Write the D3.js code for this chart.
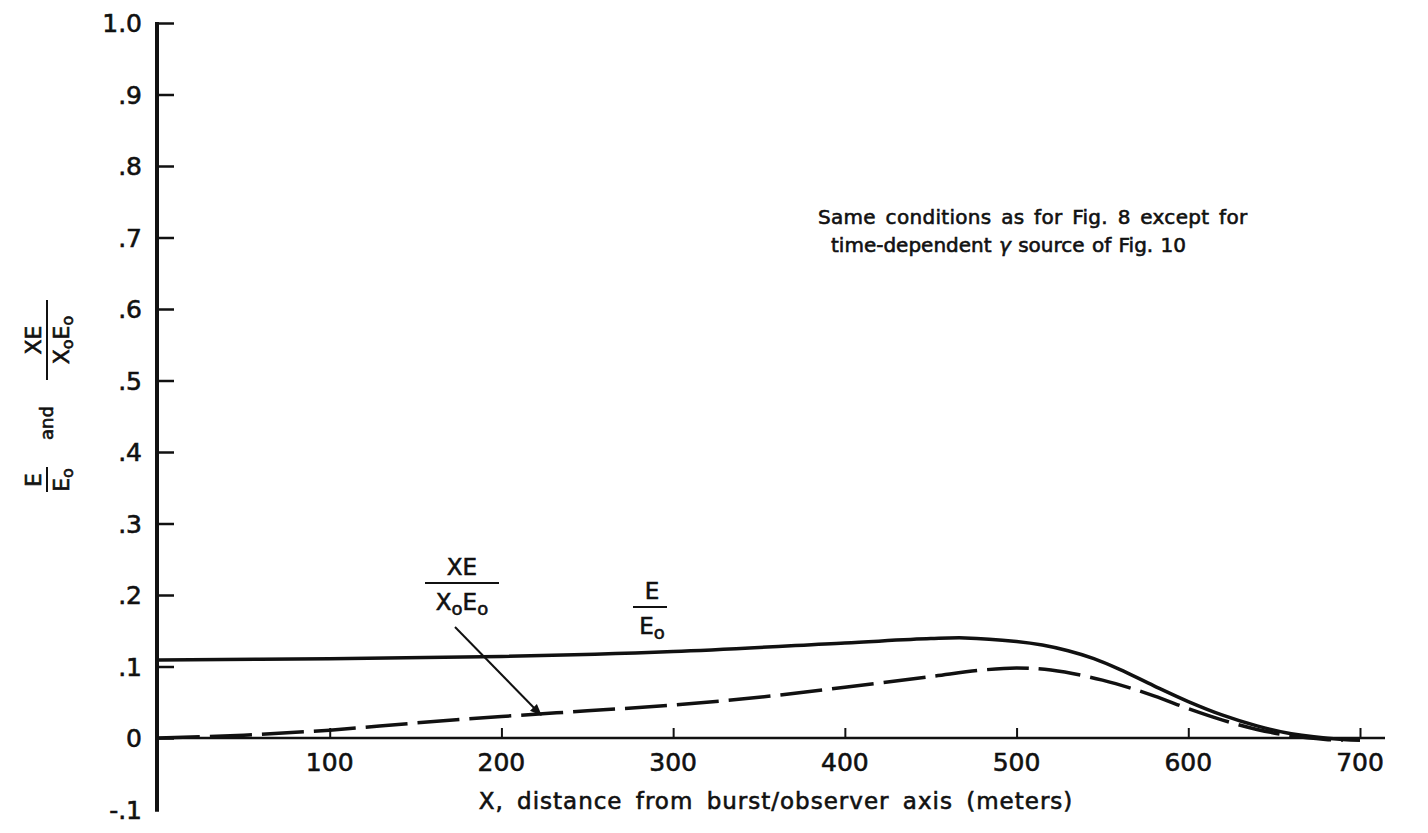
<!DOCTYPE html>
<html>
<head>
<meta charset="utf-8">
<script src="https://cdn.jsdelivr.net/npm/d3@7"></script>
<style>
  body { margin: 0; background: #fff; }
  svg { display: block; }
  text { font-family: "DejaVu Sans", sans-serif; fill: #111; stroke: #111; stroke-width: 0.6px; }
</style>
</head>
<body>
<div id="chart"></div>
<script>
var width = 1428
var height = 833

// x in meters, E/E0 (solid)
var eX = [0, 100, 200, 300, 400, 450, 470, 500, 515, 530, 545, 560, 580, 600, 620, 640, 660, 690, 700];
var eVal = [0.109, 0.111, 0.114, 0.121, 0.133, 0.139, 0.140, 0.135, 0.130, 0.122, 0.111, 0.096, 0.073, 0.051, 0.032, 0.017, 0.006, -0.002, -0.003];

// XE/(X0 E0) (dashed)
var xeX = [0, 50, 100, 150, 200, 250, 300, 350, 400, 450, 480, 500, 520, 550, 580, 600, 620, 640, 660, 680, 690];
var xeVal = [0, 0.004, 0.011, 0.021, 0.030, 0.038, 0.046, 0.057, 0.071, 0.086, 0.095, 0.098, 0.095, 0.081, 0.059, 0.041, 0.025, 0.012, 0.003, -0.002, -0.003];

var xTicks = [100, 200, 300, 400, 500, 600, 700];
var yTicks = [-0.1, 0, 0.1, 0.2, 0.3, 0.4, 0.5, 0.6, 0.7, 0.8, 0.9, 1.0];
var yTickLabels = ["-.1", "0", ".1", ".2", ".3", ".4", ".5", ".6", ".7", ".8", ".9", "1.0"];

var svg = d3.select("#chart").append("svg")
    .attr("width", width)
    .attr("height", height);

var x = d3.scaleLinear().domain([0, 700]).range([158, 1360]);
var y = d3.scaleLinear().domain([0, 1]).range([738, 23]);

// y axis
var yAxis = svg.append("g")
    .attr("transform", "translate(" + x(0) + ",0)")
    .call(d3.axisRight(y)
        .tickValues(yTicks.filter(function(d) { return d > -0.1; }))
        .tickSize(16)
        .tickFormat(""));
yAxis.select(".domain").remove();
yAxis.selectAll(".tick line").attr("stroke", "#111").attr("stroke-width", 2.5);

svg.append("line")
    .attr("x1", x(0) - 1).attr("x2", x(0) - 1)
    .attr("y1", y(1.0) - 1).attr("y2", y(-0.103))
    .attr("stroke", "#111").attr("stroke-width", 4);

svg.append("g").selectAll("text")
    .data(yTicks)
    .enter().append("text")
    .attr("x", 142)
    .attr("y", function(d) { return y(d) + 9; })
    .attr("text-anchor", "end")
    .style("font-size", "25px")
    .text(function(d, i) { return yTickLabels[i]; });

// x axis
var xAxis = svg.append("g")
    .attr("transform", "translate(0," + y(0) + ")")
    .call(d3.axisTop(x)
        .tickValues(xTicks)
        .tickSize(10)
        .tickFormat(""));
xAxis.select(".domain").remove();
xAxis.selectAll(".tick line").attr("stroke", "#111").attr("stroke-width", 2);

svg.append("line")
    .attr("x1", x(0)).attr("x2", 1385)
    .attr("y1", y(0)).attr("y2", y(0))
    .attr("stroke", "#111").attr("stroke-width", 2.5);

svg.append("g").selectAll("text")
    .data(xTicks)
    .enter().append("text")
    .attr("x", function(d) { return x(d); })
    .attr("y", 771)
    .attr("text-anchor", "middle")
    .style("font-size", "25px")
    .text(function(d) { return d; });

svg.append("text")
    .attr("x", 776)
    .attr("y", 809)
    .attr("text-anchor", "middle")
    .style("font-size", "23px")
    .style("letter-spacing", "1px")
    .style("word-spacing", "5px")
    .text("X,  distance from burst/observer axis (meters)");

// curves
var line = d3.line()
    .x(function(d) { return x(d[0]); })
    .y(function(d) { return y(d[1]); })
    .curve(d3.curveCatmullRom.alpha(0.5));

svg.append("path")
    .datum(eX.map(function(v, i) { return [v, eVal[i]]; }))
    .attr("fill", "none")
    .attr("stroke", "#111")
    .attr("stroke-width", 3.5)
    .attr("d", line);

svg.append("path")
    .datum(xeX.map(function(v, i) { return [v, xeVal[i]]; }))
    .attr("fill", "none")
    .attr("stroke", "#111")
    .attr("stroke-width", 3.5)
    .attr("stroke-dasharray", "42,10")
    .attr("d", line);

// curve labels
function fraction(g, cx, num, den, size) {
    g.append("text").attr("x", cx).attr("y", -8).attr("text-anchor", "middle")
        .style("font-size", size + "px").html(num);
    g.append("text").attr("x", cx).attr("y", size + 4).attr("text-anchor", "middle")
        .style("font-size", size + "px").html(den);
}

var lblXE = svg.append("g").attr("transform", "translate(461,583)");
lblXE.append("line").attr("x1", -36).attr("x2", 38).attr("y1", 0).attr("y2", 0)
    .attr("stroke", "#111").attr("stroke-width", 2);
fraction(lblXE, 1, "XE", "X<tspan dy='5' font-size='18'>o</tspan><tspan dy='-5'>E</tspan><tspan dy='5' font-size='18'>o</tspan>", 23);

var lblE = svg.append("g").attr("transform", "translate(649,607)");
lblE.append("line").attr("x1", -16).attr("x2", 18).attr("y1", 0).attr("y2", 0)
    .attr("stroke", "#111").attr("stroke-width", 2);
fraction(lblE, 3, "E", "E<tspan dy='5' font-size='18'>o</tspan>", 23);

// arrow
svg.append("defs").append("marker")
    .attr("id", "arrow")
    .attr("viewBox", "0 0 10 10")
    .attr("refX", 9).attr("refY", 5)
    .attr("markerWidth", 6).attr("markerHeight", 6)
    .attr("orient", "auto")
    .append("path").attr("d", "M0,1 L10,5 L0,9 Z").attr("fill", "#111");

svg.append("line")
    .attr("x1", 455).attr("y1", 627)
    .attr("x2", 541).attr("y2", 715)
    .attr("stroke", "#111").attr("stroke-width", 2)
    .attr("marker-end", "url(#arrow)");

// note
svg.append("text").attr("x", 818).attr("y", 224)
    .style("font-size", "20px").style("letter-spacing", "0.3px").style("word-spacing", "3px")
    .text("Same conditions as for Fig. 8 except for");
svg.append("text").attr("x", 831).attr("y", 252)
    .style("font-size", "20px").style("letter-spacing", "0px").style("word-spacing", "1px")
    .html("time-dependent <tspan font-style='italic'>γ</tspan> source of Fig. 10");

// y axis title (rotated)
var yt = svg.append("g").attr("transform", "translate(47,420) rotate(-90)");
yt.append("line").attr("x1", -72).attr("x2", -47).attr("y1", 0).attr("y2", 0)
    .attr("stroke", "#111").attr("stroke-width", 2);
yt.append("text").attr("x", -60).attr("y", -6).attr("text-anchor", "middle")
    .style("font-size", "22px").text("E");
yt.append("text").attr("x", -60).attr("y", 22).attr("text-anchor", "middle")
    .style("font-size", "22px").html("E<tspan dy='4' font-size='16'>o</tspan>");
yt.append("text").attr("x", -3).attr("y", 6).attr("text-anchor", "middle")
    .style("font-size", "18px").text("and");
yt.append("line").attr("x1", 40).attr("x2", 120).attr("y1", 0).attr("y2", 0)
    .attr("stroke", "#111").attr("stroke-width", 2);
yt.append("text").attr("x", 80).attr("y", -6).attr("text-anchor", "middle")
    .style("font-size", "22px").text("XE");
yt.append("text").attr("x", 80).attr("y", 22).attr("text-anchor", "middle")
    .style("font-size", "22px").html("X<tspan dy='4' font-size='16'>o</tspan><tspan dy='-4'>E</tspan><tspan dy='4' font-size='16'>o</tspan>");
</script>
</body>
</html>
